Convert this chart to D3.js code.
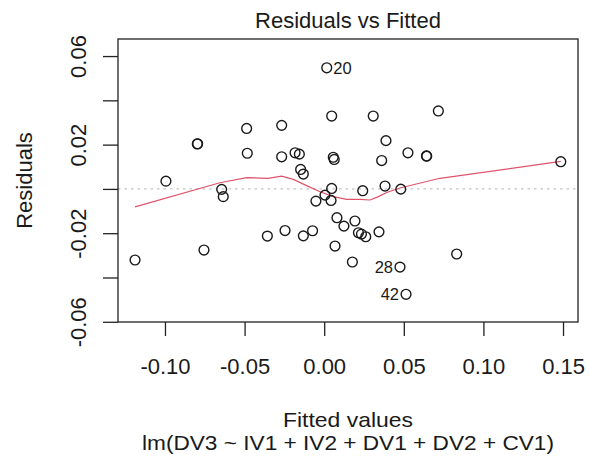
<!DOCTYPE html>
<html>
<head>
<meta charset="utf-8">
<script src="https://cdn.jsdelivr.net/npm/d3@7/dist/d3.min.js"></script>
<style>
  html, body { margin: 0; padding: 0; background: #fff; }
  svg text { font-family: "Liberation Sans", Arial, sans-serif; fill: #1a1a1a; }
</style>
</head>
<body>
<svg id="chart" width="590" height="462"></svg>
<script>
// ---- data ----
const fittedValues = [
  0.0016, 0.0047, -0.0487, -0.0267, -0.0797, -0.0795, -0.0483, -0.0267, -0.0183, -0.0156,
  0.0057, 0.0063, -0.0148, -0.0131, -0.0994, 0.0308, 0.0717, 0.0388, 0.0361, 0.0526,
  0.0644, 0.0642, 0.1486, -0.1188, -0.0644, -0.0634, -0.0755, -0.0357, -0.0246, -0.0131,
  -0.0073, -0.0052, 0.0005, 0.0047, 0.0043, 0.0080, 0.0124, 0.0068, 0.0193, 0.0215,
  0.0234, 0.0261, 0.0344, 0.0177, 0.0242, 0.0382, 0.0481, 0.0832, 0.0476, 0.0514
];
const residualValues = [
  0.0547, 0.0329, 0.0273, 0.0287, 0.0203, 0.0204, 0.0161, 0.0145, 0.0163, 0.0157,
  0.0143, 0.0133, 0.0088, 0.0067, 0.0035, 0.0329, 0.0352, 0.0218, 0.0128, 0.0163,
  0.0148, 0.0149, 0.0123, -0.0321, -0.0002, -0.0035, -0.0276, -0.0213, -0.0188, -0.0212,
  -0.0189, -0.0055, -0.0028, 0.0002, -0.0052, -0.0130, -0.0168, -0.0258, -0.0145, -0.0198,
  -0.0204, -0.0216, -0.0194, -0.0330, -0.0008, 0.0013, -0.0001, -0.0294, -0.0353, -0.0476
];
const labelledIndex = [0, 48, 49];          // positions in the arrays above
const labelledText  = ["20", "28", "42"];
const labelledSide  = ["right", "left", "left"];

const smoothX = [-0.1188, -0.0655, -0.0487, -0.0353, -0.0267, -0.0194, -0.0110, -0.0026, 0.0057,
                 0.0141, 0.0225, 0.0288, 0.0330, 0.0393, 0.0476, 0.0727, 0.1486];
const smoothY = [-0.0081, 0.0028, 0.0051, 0.0048, 0.0058, 0.0043, 0.0015, -0.0013, -0.0035,
                 -0.0047, -0.0047, -0.0050, -0.0038, -0.0016, 0.0004, 0.0048, 0.0124];

const xTicks = [-0.10, -0.05, 0.00, 0.05, 0.10, 0.15];
const xTickLabels = ["-0.10", "-0.05", "0.00", "0.05", "0.10", "0.15"];
const yTicks = [0.06, 0.04, 0.02, 0.00, -0.02, -0.04, -0.06];
const yTickLabels = ["0.06", "", "0.02", "", "-0.02", "", "-0.06"];

const titleText = "Residuals vs Fitted";
const xLabel = "Fitted values";
const subLabel = "lm(DV3 ~ IV1 + IV2 + DV1 + DV2 + CV1)";
const yLabel = "Residuals";

// ---- layout ----
const box = { left: 118, right: 578, top: 39, bottom: 322 };
const svg = d3.select("#chart");

const x = d3.scaleLinear().domain([-0.1295, 0.1594]).range([box.left, box.right]);
const y = d3.scaleLinear().domain([-0.0601, 0.0677]).range([box.bottom, box.top]);

// zero reference line
svg.append("line")
  .attr("x1", box.left).attr("x2", box.right)
  .attr("y1", y(0)).attr("y2", y(0))
  .attr("stroke", "#c4c4c4").attr("stroke-width", 1.2)
  .attr("stroke-dasharray", "2.5,4");

// smoother
const pts = smoothX.map((d, i) => [d, smoothY[i]]);
svg.append("path")
  .attr("d", d3.line().x(d => x(d[0])).y(d => y(d[1]))(pts))
  .attr("fill", "none").attr("stroke", "#DF536B").attr("stroke-width", 1.2);

// points
svg.append("g").selectAll("circle")
  .data(fittedValues.map((d, i) => [d, residualValues[i]]))
  .join("circle")
  .attr("cx", d => x(d[0])).attr("cy", d => y(d[1]))
  .attr("r", 4.9)
  .attr("fill", "none").attr("stroke", "#1a1a1a").attr("stroke-width", 1.4);

// point labels
svg.append("g").selectAll("text")
  .data(labelledIndex.map((idx, i) => ({ idx, t: labelledText[i], side: labelledSide[i] })))
  .join("text")
  .attr("x", d => x(fittedValues[d.idx]) + (d.side === "right" ? 6.5 : -7))
  .attr("y", d => y(residualValues[d.idx]))
  .attr("dy", "0.36em")
  .attr("text-anchor", d => d.side === "right" ? "start" : "end")
  .attr("font-size", 16.5)
  .text(d => d.t);

// box
svg.append("rect")
  .attr("x", box.left).attr("y", box.top)
  .attr("width", box.right - box.left).attr("height", box.bottom - box.top)
  .attr("fill", "none").attr("stroke", "#222").attr("stroke-width", 1.3);

// x axis
const xAxis = d3.axisBottom(x).tickValues(xTicks)
  .tickFormat((d, i) => xTickLabels[i]).tickSize(14).tickSizeOuter(0).tickPadding(22);
const gx = svg.append("g").attr("transform", `translate(0,${box.bottom})`).call(xAxis);
gx.select(".domain").remove();
gx.selectAll(".tick line").attr("stroke", "#222").attr("stroke-width", 1.3);
gx.selectAll(".tick text").attr("font-size", 22).attr("fill", "#1a1a1a")
  .attr("font-family", "Liberation Sans, Arial, sans-serif");

// y axis
const yAxis = d3.axisLeft(y).tickValues(yTicks)
  .tickFormat((d, i) => yTickLabels[i]).tickSize(15).tickSizeOuter(0);
const gy = svg.append("g").attr("transform", `translate(${box.left},0)`).call(yAxis);
gy.select(".domain").remove();
gy.selectAll(".tick line").attr("stroke", "#222").attr("stroke-width", 1.3);
gy.selectAll(".tick text")
  .attr("font-size", 22).attr("fill", "#1a1a1a")
  .attr("font-family", "Liberation Sans, Arial, sans-serif")
  .attr("text-anchor", "middle")
  .attr("x", null).attr("dy", null)
  .attr("transform", "translate(-32,0) rotate(-90)");

// titles
const cx = (box.left + box.right) / 2;
svg.append("text").attr("x", cx).attr("y", 27.5)
  .attr("text-anchor", "middle").attr("font-size", 22).text(titleText);
svg.append("text").attr("x", cx).attr("y", 426.5)
  .attr("text-anchor", "middle").attr("font-size", 21)
  .attr("textLength", 130).attr("lengthAdjust", "spacingAndGlyphs").text(xLabel);
svg.append("text").attr("x", cx).attr("y", 450)
  .attr("text-anchor", "middle").attr("font-size", 21)
  .attr("textLength", 412).attr("lengthAdjust", "spacingAndGlyphs").text(subLabel);
svg.append("text")
  .attr("transform", `translate(32,${(box.top + box.bottom) / 2}) rotate(-90)`)
  .attr("text-anchor", "middle").attr("font-size", 22).text(yLabel);
</script>
</body>
</html>
